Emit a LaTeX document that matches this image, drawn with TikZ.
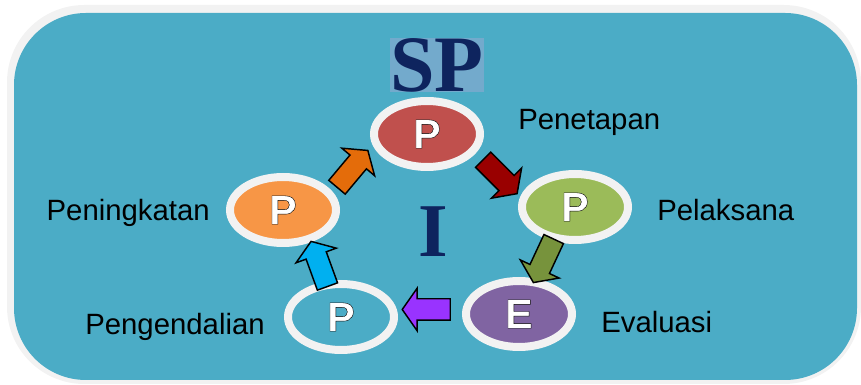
\documentclass[tikz,border=0pt]{standalone}
\usepackage{fontspec}
\setmainfont{Liberation Sans}
\newfontfamily\titlefont{Liberation Serif}
\newfontfamily\letterfont{Liberation Sans}[BoldFont={Liberation Sans Bold}]
\usetikzlibrary{positioning,calc,shapes.geometric,shapes.arrows}
\definecolor{bgblue}{RGB}{75,172,198}
\definecolor{framegray}{RGB}{242,242,242}
\definecolor{navy}{RGB}{14,36,94}
\definecolor{patch}{RGB}{115,170,204}
\definecolor{redP}{RGB}{192,80,77}
\definecolor{greenP}{RGB}{155,187,89}
\definecolor{orangeP}{RGB}{247,150,70}
\definecolor{purpleE}{RGB}{128,100,162}
\definecolor{arrred}{RGB}{153,0,0}
\definecolor{arrolive}{RGB}{119,147,60}
\definecolor{arrpurple}{RGB}{153,51,255}
\definecolor{arrcyan}{RGB}{0,176,240}
\definecolor{arrorange}{RGB}{228,108,10}
% white letter with black outline
\newcommand{\outl}[1]{\special{pdf:literal direct q 2 Tr 0.3 w 0 0 0 RG}#1\special{pdf:literal direct Q}}

\begin{document}
\begin{tikzpicture}[x=0.75pt,y=0.75pt,
  ring/.style={ellipse,draw=framegray,line width=6pt,minimum width=79.5pt,
    minimum height=49.5pt,inner sep=0pt,outer sep=0pt,text=white,
    font=\letterfont\bfseries\fontsize{31}{33}\selectfont},
  lbl/.style={font=\fontsize{22}{24}\selectfont,inner sep=0pt},
  big/.style={font=\titlefont\bfseries\fontsize{#1}{#1}\selectfont,text=navy,inner sep=0pt},
  blk/.style={single arrow,draw=black,line width=1.1pt,inner sep=0pt,
    text height=15pt,text depth=0pt,minimum height=36pt,
    single arrow head extend=8pt,single arrow tip angle=110}]
\useasboundingbox (0,0) rectangle (861,385);
% frame
\fill[framegray,rounded corners=58pt] (7,1) rectangle (861,380);
\fill[bgblue,rounded corners=54pt] (14,5) rectangle (857,372);
% titles
\node[big=60,fill=patch] (sp) at (437,320) {SP};
\node[big=57] (imark) at (433,153) {I};
% the five stages
\node[ring,fill=redP] (pen) at (427,251) {\outl{P}};
\node[ring,fill=greenP] (pel) at (575,178) {\outl{P}};
\node[ring,fill=purpleE] (eva) at (519,71) {\outl{E}};
\node[ring,fill=bgblue] (pgd) at (341,68) {\outl{P}};
\node[ring,fill=orangeP] (pnk) at (283,175) {\outl{P}};
% block arrows
\node[blk,fill=arrred,rotate=-45,yshift=-3.75pt] at ($(pen)!0.5!(pel)$) {};
\node[blk,fill=arrolive,rotate=-115,xshift=-1.5pt,yshift=-2.25pt] at ($(pel)!0.5!(eva)$) {};
\node[blk,fill=arrpurple,rotate=180,yshift=-4.5pt] at ($(eva)!0.5!(pgd)$) {};
\node[blk,fill=arrcyan,rotate=110,xshift=-5pt,yshift=-5pt] at ($(pgd)!0.5!(pnk)$) {};
\node[blk,fill=arrorange,rotate=50,xshift=-2.25pt,yshift=3pt] at ($(pnk)!0.5!(pen)$) {};
% labels
\node[lbl,right=28.5pt of pen,yshift=9pt] (penl) {Penetapan};
\node[lbl,right=21.75pt of pel,yshift=-2.25pt] (pell) {Pelaksana};
\node[lbl,right=21.75pt of eva,yshift=-6pt] (eval) {Evaluasi};
\node[lbl,left=17.25pt of pgd,yshift=-7.5pt] (pgdl) {Pengendalian};
\node[lbl,left=15pt of pnk,yshift=-2.25pt] (pnkl) {Peningkatan};
\end{tikzpicture}
\end{document}
